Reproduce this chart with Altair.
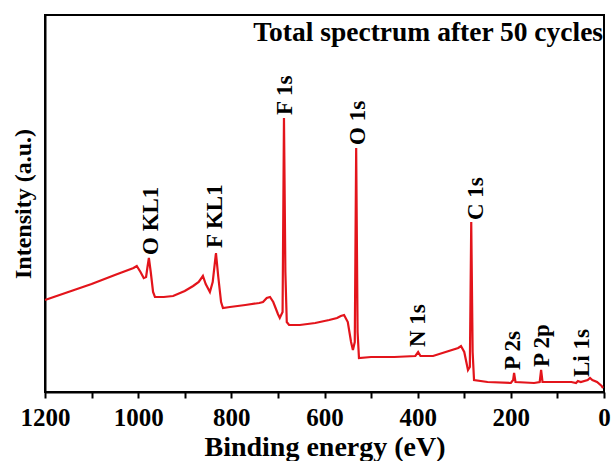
import altair as alt
import pandas as pd

# Spectrum (binding energy in eV, intensity in a.u.)
energy = [1200, 1150, 1100, 1050, 1010, 1003, 995, 988, 983, 980, 977, 973, 968, 964,
          945, 925, 900, 882, 870, 861, 855, 846, 840, 833, 828, 822, 818, 803,
          770, 740, 732, 724, 717, 710, 700, 696, 690, 687, 684, 681, 676, 653,
          620, 590, 573, 565, 558, 550, 543, 539, 535, 532, 529, 526, 500, 450,
          405, 399, 394, 367, 340, 313, 307, 300, 292, 288, 285, 282, 279, 250,
          200, 195, 193, 190, 150, 138, 135, 132, 100, 70, 60, 56, 50, 35, 30,
          25, 15, 5, 2]
intensity = [92, 100, 108, 117, 124, 126, 120, 114, 115, 125, 134, 120, 100, 95,
             95, 96, 101, 106, 110, 116, 108, 100, 110, 139, 115, 90, 84, 85,
             87, 89, 90, 94, 95, 90, 78, 74, 80, 274, 120, 70, 67, 67,
             69, 72, 74, 76, 77, 70, 50, 42, 50, 244, 60, 34, 35, 35,
             36, 40, 36, 36, 40, 44, 46, 40, 22, 25, 170, 40, 12, 10,
             9, 12, 19, 10, 9, 10, 22, 10, 10, 10, 9, 11, 10, 12, 14,
             12, 10, 6, 4]

# Peak labels
peak_labels = ["O KL1", "F KL1", "F 1s", "O 1s", "N 1s", "C 1s", "P 2s", "P 2p", "Li 1s"]
label_energy = [972, 835, 685, 528, 399, 275, 195, 133, 47]
label_level = [137, 144, 277, 247, 45, 172, 22, 25, 15]

title_text = ["Total spectrum after 50 cycles"]
x_ticks = list(range(0, 1201, 100))

FONT = "Liberation Serif"
RED = "#e3141b"

spec = pd.DataFrame({"energy": energy, "intensity": intensity})
labels = pd.DataFrame({"label": peak_labels, "energy": label_energy, "level": label_level})
title_df = pd.DataFrame({"t": title_text, "energy": [2], "level": [373]})

xscale = alt.Scale(domain=[0, 1200], reverse=True, nice=False)
yscale = alt.Scale(domain=[0, 377], nice=False)

line = alt.Chart(spec).mark_line(color=RED, strokeWidth=2.2).encode(
    x=alt.X("energy:Q", scale=xscale,
            axis=alt.Axis(title="Binding energy (eV)", values=x_ticks, format="d",
                          labelExpr="datum.value % 200 == 0 ? datum.label : ''",
                          labelFont=FONT, labelFontSize=25, labelFontWeight="bold",
                          labelColor="black", labelPadding=7,
                          titleFont=FONT, titleFontSize=28, titleFontWeight="bold",
                          titleColor="black", titlePadding=3,
                          tickColor="black", tickSize=6, tickWidth=2,
                          domainColor="black", domainWidth=2, grid=False,
                          labelFlush=False)),
    y=alt.Y("intensity:Q", scale=yscale,
            axis=alt.Axis(title="Intensity (a.u.)", labels=False, ticks=False,
                          titleFont=FONT, titleFontSize=24, titleFontWeight="bold",
                          titleColor="black", titlePadding=10,
                          domainColor="black", domainWidth=2, grid=False)),
)

text = alt.Chart(labels).mark_text(
    angle=270, align="left", baseline="middle", font=FONT, fontSize=23,
    fontWeight="bold", color="black"
).encode(
    x=alt.X("energy:Q", scale=xscale),
    y=alt.Y("level:Q", scale=yscale),
    text="label:N",
)

title = alt.Chart(title_df).mark_text(
    align="right", baseline="top", font=FONT, fontSize=27.5, fontWeight="bold",
    color="black"
).encode(
    x=alt.X("energy:Q", scale=xscale),
    y=alt.Y("level:Q", scale=yscale),
    text="t:N",
)

chart = alt.layer(line, text, title).properties(
    width=559, height=377,
    padding={"left": 45, "top": 15, "right": 9, "bottom": 69},
    autosize=alt.AutoSizeParams(type="none"),
    background="white",
).configure_view(stroke="black", strokeWidth=2)

chart.save("out.html", embed_options={"renderer": "svg", "actions": False})
